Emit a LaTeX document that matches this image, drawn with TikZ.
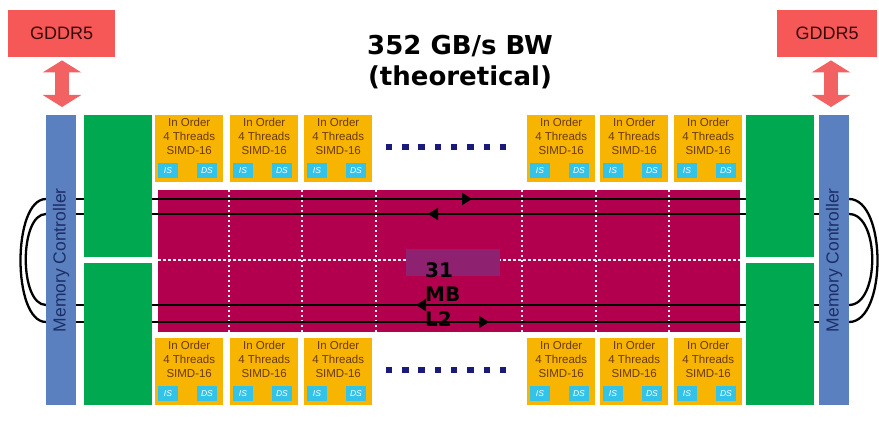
\documentclass[tikz,border=0pt]{standalone}
\usepackage{fontspec}
\setmainfont{Liberation Sans}
\newfontfamily\titlefont{DejaVu Sans}
\usetikzlibrary{arrows.meta,calc}
\definecolor{gddr}{HTML}{F65858}
\definecolor{gddrarrow}{HTML}{F26262}
\definecolor{gddrtext}{HTML}{3A0808}
\definecolor{mcblue}{HTML}{5B80C0}
\definecolor{mctext}{HTML}{1C2E66}
\definecolor{greenblk}{HTML}{00A84F}
\definecolor{corefill}{HTML}{F7B400}
\definecolor{coretext}{HTML}{6B3A10}
\definecolor{iscyan}{HTML}{33C3E8}
\definecolor{ltwo}{HTML}{B3004E}
\definecolor{purp}{HTML}{8E2270}
\definecolor{dotnavy}{HTML}{1A1A7A}
\tikzset{
  x=1pt, y=-1pt,
  gddrbox/.style={fill=gddr, draw=none, anchor=north west, minimum width=107pt, minimum height=47pt, inner sep=0pt,
    font=\fontsize{18}{20}\selectfont, text=gddrtext},
  gddrlink/.style={draw=gddrarrow, line width=14pt, {Triangle[width=38pt,length=12pt]}-{Triangle[width=38pt,length=12pt]}},
  mcbar/.style={fill=mcblue, draw=none, anchor=north west, minimum width=30pt, minimum height=290pt, inner sep=0pt},
  mclabel/.style={rotate=90, font=\fontsize{17.5}{19}\selectfont, text=mctext},
  greenbox/.style={fill=greenblk, draw=none, anchor=north west, minimum width=68pt, minimum height=142pt, inner sep=0pt},
  corebox/.style={fill=corefill, draw=none, anchor=north west, minimum width=68pt, minimum height=67pt, inner sep=0pt},
  coretxt/.style={anchor=north, align=center, inner sep=0pt, font=\fontsize{11.5}{14}\selectfont, text=coretext},
  smallbox/.style={fill=iscyan, draw=none, minimum width=20pt, minimum height=15pt, inner sep=0pt,
    font=\fontsize{8.5}{9}\selectfont\itshape, text=white},
  dotsq/.style={fill=dotnavy, draw=none, minimum size=6.5pt, inner sep=0pt},
  ring/.style={draw=black, line width=2.3pt},
  gridline/.style={draw=white!80!pink, line width=2.5pt, dash pattern=on 2.5pt off 2.5pt},
  bus/.style={draw=black, line width=2.8pt},
  bustip/.style={draw=black, line width=2.8pt, -{Triangle[width=12pt,length=10pt]}},
}
\begin{document}
\begin{tikzpicture}
\useasboundingbox (0,0) rectangle (879,427);

% GDDR5 boxes
\node[gddrbox] (g1) at (8,10) {GDDR5};
\node[gddrbox, minimum width=100pt] (g2) at (777,10) {GDDR5};

% L2 cache
\node[fill=ltwo, draw=none, anchor=north west, minimum width=582pt, minimum height=142pt, inner sep=0pt] (l2) at (158,190) {};
\foreach \gx [count=\k] in {229,302,376,522,596,669}{
  \coordinate (vt\k) at (\gx,190);
  \coordinate (vb\k) at (\gx,332);
  \draw[gridline] (vt\k) -- (vb\k);
}
\coordinate (hl) at (158,260);
\coordinate (hr) at (740,260);
\draw[gridline] (hl) -- (hr);
\node[fill=purp, draw=none, anchor=north west, minimum width=94pt, minimum height=27pt, inner sep=0pt] (pr) at (406,249) {};

% bus lines
\foreach \yy [count=\k] in {199,214,305,322}{
  \coordinate (bl\k) at (46,\yy);
  \coordinate (br\k) at (849,\yy);
  \draw[bus] (bl\k) -- (br\k);
}
\coordinate (t1a) at (440,199); \coordinate (t1b) at (472,199);
\coordinate (t2a) at (460,214); \coordinate (t2b) at (428,214);
\coordinate (t3a) at (450,305); \coordinate (t3b) at (416,305);
\coordinate (t4a) at (455,322); \coordinate (t4b) at (489,322);
\draw[bustip] (t1a) -- (t1b);
\draw[bustip] (t2a) -- (t2b);
\draw[bustip] (t3a) -- (t3b);
\draw[bustip] (t4a) -- (t4b);

% ring arcs
\draw[ring] (bl1) .. controls (12,199) and (12,322) .. (bl4);
\draw[ring] (bl2) .. controls (19,214) and (19,305) .. (bl3);
\draw[ring] (br1) .. controls (887,199) and (887,322) .. (br4);
\draw[ring] (br2) .. controls (880,214) and (880,305) .. (br3);

% green blocks
\node[greenbox] (gl1) at (84,115) {};
\node[greenbox] (gl2) at (84,263) {};
\node[greenbox] (gr1) at (746,115) {};
\node[greenbox] (gr2) at (746,263) {};

% memory controllers
\node[mcbar] (mc1) at (46,115) {};
\node[mclabel] (mct1) at (mc1.center) {Memory Controller};
\node[mcbar] (mc2) at (819,115) {};
\node[mclabel] (mct2) at (mc2.center) {Memory Controller};

% GDDR links
\draw[gddrlink, shorten <=3pt, shorten >=8pt] (g1.south -| 62,0) -- (mc1.north -| 62,0);
\draw[gddrlink, shorten <=3pt, shorten >=8pt] (g2.south -| 831,0) -- (mc2.north -| 831,0);

% cores
\foreach \cy [count=\r] in {115,338}{
  \foreach \cx [count=\c] in {155,230,304,527,600,674}{
    \node[corebox] (c\r\c) at (\cx,\cy) {};
    \node[coretxt] (ct\r\c) at ($(c\r\c.north)+(0,3)$) {In Order\\4 Threads\\SIMD-16};
    \node[smallbox] (is\r\c) at (\cx+13,\cy+56) {IS};
    \node[smallbox] (ds\r\c) at (\cx+52,\cy+56) {DS};
  }
}

% dots
\foreach \dy [count=\r] in {147,370}{
  \foreach \i in {0,...,7}{
    \node[dotsq] (dot\r\i) at (389+16.3*\i,\dy) {};
  }
}

% texts
\node[align=center, font=\titlefont\bfseries\fontsize{26}{31}\selectfont, text=black] (title) at (460,62) {352 GB/s BW\\(theoretical)};
\node[align=left, anchor=north west, inner sep=0pt, font=\titlefont\bfseries\fontsize{20}{24.5}\selectfont, text=black] (l2txt) at (425,262) {31\\MB\\L2};
\end{tikzpicture}
\end{document}
